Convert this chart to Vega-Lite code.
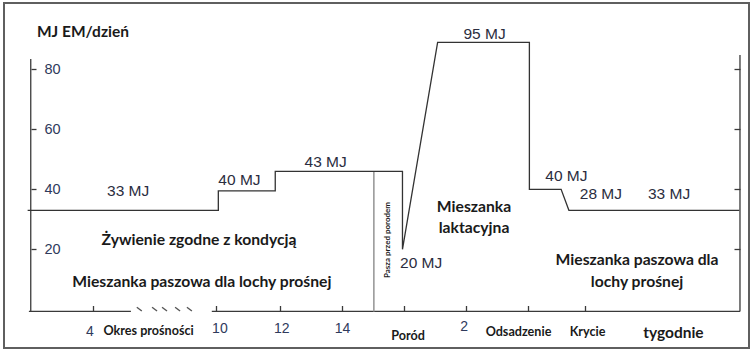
{
  "$schema": "https://vega.github.io/schema/vega-lite/v6.json",
  "autosize": {"type": "none"},
  "width": 745,
  "height": 345,
  "padding": {"left": 4, "top": 3, "right": 7, "bottom": 4},
  "background": "white",
  "config": {
    "view": {"stroke": "#5f5f5f", "strokeWidth": 2},
    "axis": {"grid": false, "domain": false},
    "font": "Liberation Sans"
  },
  "datasets": {
    "energia": [
      {"i": 0, "t": 1.9, "v": 33},
      {"i": 1, "t": 8.03, "v": 33},
      {"i": 2, "t": 8.03, "v": 39.5},
      {"i": 3, "t": 9.86, "v": 39.5},
      {"i": 4, "t": 9.86, "v": 46},
      {"i": 5, "t": 13.95, "v": 46},
      {"i": 6, "t": 13.95, "v": 20},
      {"i": 7, "t": 15.08, "v": 89},
      {"i": 8, "t": 18.03, "v": 89},
      {"i": 9, "t": 18.03, "v": 40},
      {"i": 10, "t": 19.05, "v": 40},
      {"i": 11, "t": 19.3, "v": 33},
      {"i": 12, "t": 24.78, "v": 33}
    ],
    "osie": [
      {"os": "lewa", "t": 2.0, "t2": 2.0, "v": -0.7, "v2": 83.4},
      {"os": "prawa", "t": 24.8, "t2": 24.8, "v": -0.7, "v2": 84.8},
      {"os": "dol1", "t": 1.94, "t2": 5.22, "v": -0.7, "v2": -0.7},
      {"os": "dol2", "t": 7.82, "t2": 24.8, "v": -0.7, "v2": -0.7}
    ],
    "przerwa": [
      {"t": 5.41, "t2": 5.57},
      {"t": 5.9, "t2": 6.06},
      {"t": 6.22, "t2": 6.38},
      {"t": 6.64, "t2": 6.8},
      {"t": 7.02, "t2": 7.18}
    ],
    "separator": [
      {"t": 13.03, "v": -0.7, "v2": 46}
    ],
    "wartosci": [
      {"t": 5.13, "v": 39.5, "label": "33 MJ"},
      {"t": 8.71, "v": 43.1, "label": "40 MJ"},
      {"t": 11.48, "v": 49.1, "label": "43 MJ"},
      {"t": 16.59, "v": 91.9, "label": "95 MJ"},
      {"t": 19.22, "v": 44.4, "label": "40 MJ"},
      {"t": 20.33, "v": 38.4, "label": "28 MJ"},
      {"t": 22.52, "v": 38.4, "label": "33 MJ"},
      {"t": 14.55, "v": 15.4, "label": "20 MJ"}
    ],
    "tygodnie": [
      {"t": 3.9, "v": -7.5, "label": "4"},
      {"t": 8.08, "v": -6.6, "label": "10"},
      {"t": 10.07, "v": -6.6, "label": "12"},
      {"t": 12.02, "v": -6.6, "label": "14"},
      {"t": 15.93, "v": -6.0, "label": "2"}
    ],
    "etapy": [
      {"t": 5.79, "v": -7.2, "label": "Okres prośności"},
      {"t": 14.13, "v": -8.8, "label": "Poród"},
      {"t": 17.68, "v": -7.6, "label": "Odsadzenie"},
      {"t": 19.9, "v": -7.6, "label": "Krycie"}
    ],
    "opisy": [
      {"t": 7.41, "v": 23.1, "label": "Żywienie zgodne z kondycją"},
      {"t": 7.5, "v": 9.2, "label": "Mieszanka paszowa dla lochy prośnej"},
      {"t": 16.25, "v": 34.1, "label": "Mieszanka"},
      {"t": 16.25, "v": 27.1, "label": "laktacyjna"},
      {"t": 21.49, "v": 16.4, "label": "Mieszanka paszowa dla"},
      {"t": 21.49, "v": 9.2, "label": "lochy prośnej"}
    ]
  },
  "resolve": {"axis": {"y": "independent", "x": "independent"}},
  "layer": [
    {
      "data": {"name": "osie"},
      "mark": {"type": "rule", "color": "#3a3a3a", "strokeWidth": 1.3},
      "encoding": {
        "x": {"field": "t", "type": "quantitative", "scale": {"domain": [1.14, 25.09], "nice": false, "zero": false}, "axis": null},
        "x2": {"field": "t2"},
        "y": {"field": "v", "type": "quantitative", "scale": {"domain": [-12.9, 102.1], "nice": false, "zero": false}, "axis": null},
        "y2": {"field": "v2"}
      }
    },
    {
      "data": {"name": "przerwa"},
      "mark": {"type": "rule", "color": "#555555", "strokeWidth": 1.4},
      "encoding": {
        "x": {"field": "t", "type": "quantitative", "axis": null},
        "x2": {"field": "t2"},
        "y": {"datum": 0.67, "type": "quantitative", "axis": null},
        "y2": {"datum": -0.57}
      }
    },
    {
      "data": {"name": "separator"},
      "mark": {"type": "rule", "color": "#9a9a9a", "strokeWidth": 1.6},
      "encoding": {
        "x": {"field": "t", "type": "quantitative", "axis": null},
        "y": {"field": "v", "type": "quantitative",
              "axis": {"orient": "right", "offset": -9, "values": [20, 40, 60, 80], "tickSize": -6, "tickColor": "#3a3a3a", "tickWidth": 1.3, "labels": false, "title": null}},
        "y2": {"field": "v2"}
      }
    },
    {
      "data": {"name": "energia"},
      "mark": {"type": "line", "color": "#333333", "strokeWidth": 1.3},
      "encoding": {
        "x": {"field": "t", "type": "quantitative",
              "axis": {"orient": "bottom", "offset": -36.5, "values": [4, 7.95, 10, 12, 14, 16, 18, 19.82], "tickSize": -6, "tickColor": "#3a3a3a", "tickWidth": 1.3, "labels": false, "title": null}},
        "y": {"field": "v", "type": "quantitative",
              "axis": {"orient": "left", "offset": -27, "values": [20, 40, 60, 80], "tickSize": -5, "tickColor": "#3a3a3a", "tickWidth": 1.3, "labelAlign": "left", "labelPadding": -8, "labelFontSize": 14.5, "labelColor": "#2f3a5c", "title": null}},
        "order": {"field": "i", "type": "quantitative"}
      }
    },
    {
      "data": {"name": "wartosci"},
      "mark": {"type": "text", "font": "Liberation Sans", "fontSize": 15.5, "color": "#2b2d40", "align": "center", "baseline": "middle"},
      "encoding": {
        "x": {"field": "t", "type": "quantitative", "axis": null},
        "y": {"field": "v", "type": "quantitative", "axis": null},
        "text": {"field": "label"}
      }
    },
    {
      "data": {"name": "tygodnie"},
      "mark": {"type": "text", "font": "Liberation Sans", "fontSize": 14, "color": "#2f3a5c", "align": "center", "baseline": "middle"},
      "encoding": {
        "x": {"field": "t", "type": "quantitative", "axis": null},
        "y": {"field": "v", "type": "quantitative", "axis": null},
        "text": {"field": "label"}
      }
    },
    {
      "data": {"name": "etapy"},
      "mark": {"type": "text", "font": "Lato", "fontWeight": "bold", "fontSize": 12.6, "color": "#1a1a1a", "align": "center", "baseline": "middle"},
      "encoding": {
        "x": {"field": "t", "type": "quantitative", "axis": null},
        "y": {"field": "v", "type": "quantitative", "axis": null},
        "text": {"field": "label"}
      }
    },
    {
      "data": {"values": [{"t": 22.66, "v": -7.9, "label": "tygodnie"}]},
      "mark": {"type": "text", "font": "Lato", "fontWeight": "bold", "fontSize": 15.5, "color": "#1a1a1a", "align": "center", "baseline": "middle"},
      "encoding": {
        "x": {"field": "t", "type": "quantitative", "axis": null},
        "y": {"field": "v", "type": "quantitative", "axis": null},
        "text": {"field": "label"}
      }
    },
    {
      "data": {"values": [{"t": 2.2, "v": 92.6, "label": "MJ EM/dzień"}]},
      "mark": {"type": "text", "font": "Lato", "fontWeight": "bold", "fontSize": 15.5, "color": "#1a1a1a", "align": "left", "baseline": "middle"},
      "encoding": {
        "x": {"field": "t", "type": "quantitative", "axis": null},
        "y": {"field": "v", "type": "quantitative", "axis": null},
        "text": {"field": "label"}
      }
    },
    {
      "data": {"name": "opisy"},
      "mark": {"type": "text", "font": "Lato", "fontWeight": "bold", "fontSize": 15.7, "color": "#1a1a1a", "align": "center", "baseline": "middle"},
      "encoding": {
        "x": {"field": "t", "type": "quantitative", "axis": null},
        "y": {"field": "v", "type": "quantitative", "axis": null},
        "text": {"field": "label"}
      }
    },
    {
      "data": {"values": [{"t": 13.49, "v": 23.1, "label": "Pasza przed porodem"}]},
      "mark": {"type": "text", "font": "Lato", "fontWeight": "bold", "fontSize": 8, "color": "#1a1a1a", "align": "center", "baseline": "middle", "angle": 270},
      "encoding": {
        "x": {"field": "t", "type": "quantitative", "axis": null},
        "y": {"field": "v", "type": "quantitative", "axis": null},
        "text": {"field": "label"}
      }
    }
  ]
}
